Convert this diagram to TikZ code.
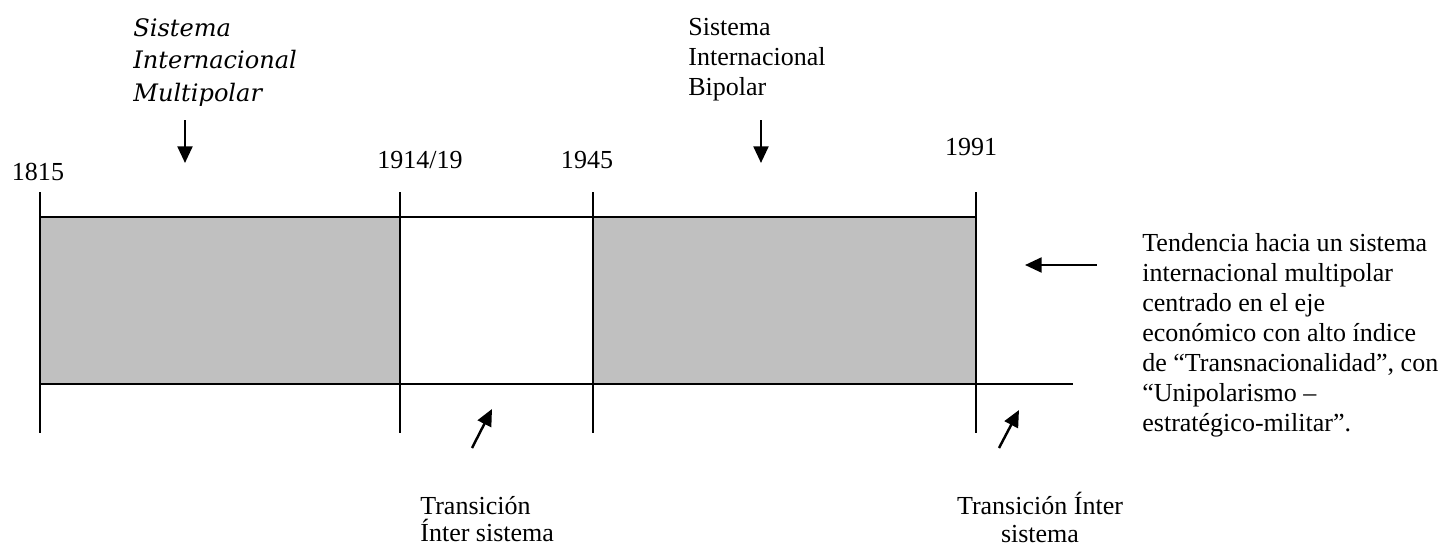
\documentclass[tikz,border=0pt]{standalone}
\usepackage{fontspec}
\setmainfont{Liberation Serif}
\newfontfamily\bookfont{DejaVu Serif}
\usepackage{tikz}
\usetikzlibrary{arrows.meta}
\definecolor{periodgray}{RGB}{192,192,192}
\tikzset{
  pointer/.style={line width=1.4pt, -{Triangle[length=9.5pt,width=8.5pt]}},
  period/.style={draw=black, line width=1.2pt},
  yearline/.style={black, line width=0.8pt},
  plaintext/.style={font=\fontsize{14.8}{17.1}\selectfont},
  tighttext/.style={font=\fontsize{14.8}{15.6}\selectfont},
  slanttext/.style={font=\bookfont\itshape\fontsize{13.7}{18.5}\selectfont}
}

\begin{document}
\begin{tikzpicture}[scale=0.2]
\tikzstyle{every node}+=[inner sep=0pt, plaintext]
\useasboundingbox (0,0) rectangle (144.9,-55);
\fill [periodgray] (4.0,-21.7) rectangle (40.0,-38.4);
\fill [periodgray] (59.3,-21.7) rectangle (97.6,-38.4);
\draw [period] (4.0,-21.7) rectangle (40.0,-38.4);
\draw [period] (40.0,-21.7) rectangle (59.3,-38.4);
\draw [period] (59.3,-21.7) rectangle (97.6,-38.4);
\draw [period] (97.6,-38.4) -- (107.3,-38.4);
\draw [yearline] (4.0,-19.2) -- (4.0,-43.3);
\draw [yearline] (40.0,-19.2) -- (40.0,-43.3);
\draw [yearline] (59.3,-19.2) -- (59.3,-43.3);
\draw [yearline] (97.6,-19.2) -- (97.6,-43.3);
\node (y1815) at (3.8,-17.2) {1815};
\node (y1914) at (42.0,-16.0) {1914/19};
\node (y1945) at (58.7,-16.0) {1945};
\node (y1991) at (97.1,-14.7) {1991};
\node [slanttext, anchor=north west, align=left] (multi) at (13.3,-1.8) {Sistema\\Internacional\\Multipolar};
\node [anchor=north west, align=left] (bipolar) at (68.8,-1.8) {Sistema\\Internacional\\Bipolar};
\node [anchor=north west, align=left] (trend) at (114.2,-23.3) {Tendencia hacia un sistema\\internacional multipolar\\centrado en el eje\\económico con alto índice\\de “Transnacionalidad”, con\\“Unipolarismo –\\estratégico-militar”.};
\node [tighttext, anchor=north west, align=left] (trans1) at (42.0,-49.6) {Transición\\Ínter sistema};
\node [tighttext, anchor=north, align=center] (trans2) at (104.0,-49.2) {Transición Ínter\\sistema};
\coordinate (multi-from) at (18.5,-12.0);
\coordinate (multi-to) at (18.5,-16.3);
\coordinate (bipolar-from) at (76.1,-12.0);
\coordinate (bipolar-to) at (76.1,-16.3);
\coordinate (trend-from) at (109.7,-26.5);
\coordinate (trend-to) at (102.5,-26.5);
\coordinate (trans1-from) at (47.2,-44.8);
\coordinate (trans1-to) at (49.2,-40.9);
\coordinate (trans2-from) at (99.9,-44.8);
\coordinate (trans2-to) at (101.9,-41.0);
\draw [pointer] (multi-from) -- (multi-to);
\draw [pointer] (bipolar-from) -- (bipolar-to);
\draw [pointer] (trend-from) -- (trend-to);
\draw [pointer] (trans1-from) -- (trans1-to);
\draw [pointer] (trans2-from) -- (trans2-to);
\end{tikzpicture}
\end{document}
